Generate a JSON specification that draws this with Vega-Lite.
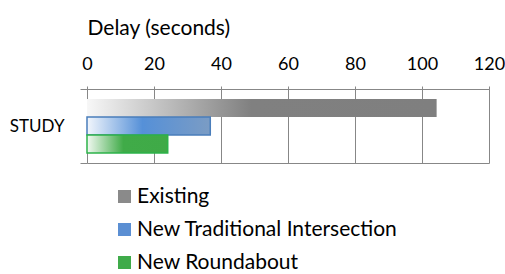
{
  "$schema": "https://vega.github.io/schema/vega-lite/v6.json",
  "width": 402,
  "height": 74,
  "autosize": {"type": "none"},
  "padding": {"left": 87, "top": 89, "right": 16, "bottom": 111},
  "background": "white",
  "config": {"font": "Lato", "view": {"stroke": null}},
  "data": {"values": [
    {"cat": "STUDY", "series": "Existing", "delay": 104.3},
    {"cat": "STUDY", "series": "New Traditional Intersection", "delay": 36.8},
    {"cat": "STUDY", "series": "New Roundabout", "delay": 24.1}
  ]},
  "encoding": {
    "x": {
      "field": "delay", "type": "quantitative",
      "scale": {"domain": [0, 120], "nice": false, "zero": true},
      "axis": {
        "orient": "top", "title": "Delay (seconds)", "values": [0, 20, 40, 60, 80, 100, 120],
        "grid": true, "gridColor": "#878787", "gridWidth": 1,
        "domainColor": "#878787", "domainWidth": 1, "tickColor": "#878787", "tickSize": 3,
        "labelFlush": false, "labelFontSize": 18, "labelColor": "#000", "labelPadding": 13,
        "titleFontSize": 21, "titleFontWeight": "normal", "titleColor": "#000",
        "titleAnchor": "start", "titleAlign": "left", "titlePadding": 17
      }
    },
    "y": {
      "field": "cat", "type": "nominal",
      "scale": {"paddingInner": 0, "paddingOuter": 0},
      "axis": {
        "title": null, "domain": false, "grid": true, "gridColor": "#878787",
        "tickBand": "extent", "tickSize": 7, "tickColor": "#878787",
        "labelFontSize": 17, "labelFontWeight": "normal", "labelColor": "#000", "labelPadding": 16
      }
    },
    "yOffset": {
      "field": "series", "type": "nominal",
      "sort": ["Existing", "New Traditional Intersection", "New Roundabout"],
      "scale": {"paddingInner": 0, "paddingOuter": 0.556}
    }
  },
  "layer": [
    {
      "mark": {"type": "bar"},
      "encoding": {
        "color": {
          "field": "series", "type": "nominal",
          "sort": ["Existing", "New Traditional Intersection", "New Roundabout"],
          "scale": {"domain": ["Existing", "New Traditional Intersection", "New Roundabout"], "range": ["#8a8a8a", "#5b8fd3", "#3fab4a"]},
          "legend": {
            "orient": "none", "legendX": 27, "legendY": 97, "title": null,
            "symbolType": "square", "symbolSize": 169, "symbolStrokeWidth": 0, "symbolOpacity": 1,
            "labelFontSize": 21, "labelColor": "#000", "labelOffset": 2, "rowPadding": 11, "labelLimit": 0
          }
        }
      }
    },
    {
      "transform": [{"filter": "datum.series === 'Existing'"}],
      "mark": {"type": "bar", "strokeWidth": 0,
        "fill": {"gradient": "linear", "x1": 0, "x2": 1, "y1": 0, "y2": 0,
          "stops": [{"offset": 0, "color": "#f7f7f7"}, {"offset": 0.47, "color": "#808080"}, {"offset": 1, "color": "#7f7f7f"}]}}
    },
    {
      "transform": [{"filter": "datum.series === 'New Traditional Intersection'"}],
      "mark": {"type": "bar", "stroke": "#4a7ebb", "strokeWidth": 1.5,
        "fill": {"gradient": "linear", "x1": 0, "x2": 1, "y1": 0, "y2": 0,
          "stops": [{"offset": 0, "color": "#f2f6fc"}, {"offset": 0.45, "color": "#5590d8"}, {"offset": 1, "color": "#7b9cc4"}]}}
    },
    {
      "transform": [{"filter": "datum.series === 'New Roundabout'"}],
      "mark": {"type": "bar", "stroke": "#2db34a", "strokeWidth": 1.5,
        "fill": {"gradient": "linear", "x1": 0, "x2": 1, "y1": 0, "y2": 0,
          "stops": [{"offset": 0, "color": "#f2f9f2"}, {"offset": 0.45, "color": "#40ab48"}, {"offset": 1, "color": "#3faa47"}]}}
    }
  ]
}
